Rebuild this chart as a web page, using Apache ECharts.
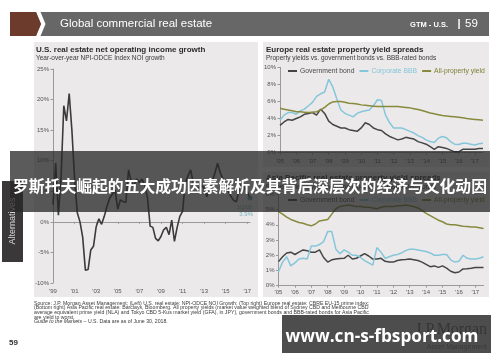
<!DOCTYPE html>
<html><head><meta charset="utf-8">
<script src="https://cdn.jsdelivr.net/npm/echarts@6/dist/echarts.min.js"></script>
<style>html,body{margin:0;padding:0;background:#fff}#c{width:500px;height:362px}</style>
</head><body><div id="c"></div>
<script>
// ---------- DATA ----------
const usStartYear = 1999;
const usTickLabels = ["'99","'01","'03","'05","'07","'09","'11","'13","'15","'17"];
const usNoiGrowth = [
  2.8, 9.6, 1.1, 7.5, 19, 16.5, 21, 15, 7, 1.5,
  0, -2.5, -7.9, -7.8, -4.6, -4, -0.8, 0.5, -0.4, 0.9,
  2.5, 3.9, 4.5, 5.2, 2.1, 3.6, 3.3, 3.2, 8.5, 6.5,
  6, 7, 6.5, 7, 6, 4, -0.7, -0.9, -2.7, -3.1,
  -2.4, -1.3, -0.9, -2.1, 0.3, -3.2, -0.9, 0.9, 1.7, 6.3,
  7.5, 8.5, 6.3, 5.5, 5.5, 6, 5.5, 4.1, 5.5, 6.6,
  8, 9.6, 8, 7, 6.3, 5, 4.1, 3.5, 3.3, 5.5,
  6.3, 5.5, 4.9, 3.9
];
const usLastLabel = '1Q18:\n3.9%';

const yieldStartYear = 2005;
const yieldTickLabels = ["'05","'06","'07","'08","'09","'10","'11","'12","'13","'14","'15","'16","'17"];
const seriesNames = ['Government bond', 'Corporate BBB', 'All-property yield'];

const euGovBond = [
  3.2, 3.6, 3.9, 3.8, 4.0, 4.2, 4.5, 4.6, 4.7, 4.4,
  5.1, 4.6, 3.7, 3.3, 3.1, 2.9, 2.9, 2.7, 2.6, 2.5,
  2.9, 3.5, 3.3, 2.9, 2.7, 2.6, 2.2, 1.9, 1.7, 1.5,
  1.6, 1.8, 1.7, 1.6, 1.3, 1.15, 1.0, 0.7, 0.4, 0.7,
  0.6, 0.5, 0.3, 0.1, 0.1, 0.4, 0.4, 0.4, 0.4, 0.5, 0.5
];
const euCorpBBB = [
  3.8, 4.4, 4.7, 4.7, 4.5, 4.9, 5.1, 5.5, 5.9, 6.6,
  6.9, 7.1, 8.6, 7.7, 6.3, 5.0, 4.6, 4.4, 4.2, 4.6,
  4.8, 4.9, 5.0, 5.5, 6.2, 6.1, 4.4, 3.5, 2.9, 2.9,
  2.9, 2.7, 2.5, 2.3, 2.0, 1.8, 1.5, 1.3, 1.2, 1.7,
  1.9, 1.75, 1.3, 1.0, 0.95, 1.1, 1.1, 1.0, 0.9, 1.05, 1.1
];
const euAllProperty = [
  5.2, 5.1, 5.0, 4.9, 4.8, 4.8, 4.75, 4.7, 4.75, 4.8,
  5.0, 5.3, 5.7, 5.95, 6.0, 6.0, 5.9, 5.8, 5.75, 5.7,
  5.6, 5.55, 5.5, 5.45, 5.4, 5.4, 5.4, 5.4, 5.4, 5.4,
  5.35, 5.3, 5.25, 5.15, 5.05, 4.95, 4.8, 4.65, 4.55, 4.45,
  4.35, 4.3, 4.25, 4.2, 4.15, 4.1, 4.0, 3.95, 3.9, 3.85, 3.8
];

const apGovBond = [
  1.58, 1.9, 2.15, 2.2, 2.05, 2.2, 2.35, 2.3, 2.2, 2.2,
  2.35, 1.85, 1.55, 1.7, 1.75, 1.78, 1.8, 2.0, 1.75, 1.8,
  1.95, 2.1, 1.95, 1.75, 1.75, 1.8, 1.6, 1.55, 1.55, 1.65,
  1.7, 1.72, 1.75, 1.7, 1.65, 1.55, 1.4, 1.25, 1.3, 1.2,
  1.3, 1.15, 0.95, 0.85, 0.9, 1.1, 1.12, 1.15, 1.2, 1.2, 1.2
];
const apCorpBBB = [
  0.92, 1.55, 1.9, 1.3, 1.5, 1.75, 1.8, 1.75, 2.6, 2.6,
  2.7, 2.9, 3.55, 3.55, 2.4, 2.1, 2.35, 2.2, 2.0, 2.0,
  1.85, 1.65, 1.5, 1.35, 2.5, 2.2, 1.8, 1.9, 2.0, 2.05,
  2.15, 2.3, 2.4, 2.4, 2.35, 2.3, 2.25, 2.15, 2.0, 2.0,
  2.05, 2.05, 1.7, 1.55, 1.6, 2.0, 1.8, 1.75, 1.75, 1.8, 1.9
];
const apAllProperty = [
  4.87, 4.7, 4.5, 4.35, 4.25, 4.15, 4.1, 4.0, 3.93, 4.05,
  4.25, 4.3, 4.35, 4.7, 5.05, 5.2, 5.25, 5.3, 5.25, 5.2,
  5.2, 5.15, 5.15, 5.1, 5.05, 5.15, 5.2, 5.2, 5.2, 5.25,
  5.25, 5.3, 5.25, 5.2, 5.1, 4.95, 4.75, 4.6, 4.45, 4.3,
  4.2, 4.05, 4.0, 4.0, 3.95, 3.9, 3.88, 3.86, 3.85, 3.8, 3.75
];

// ---------- BUILD ----------
function quarters(startYear, n) {
  const out = [];
  for (let i = 0; i < n; i++) out.push((startYear + Math.floor(i / 4)) + 'Q' + (i % 4 + 1));
  return out;
}
const usCats = quarters(usStartYear, usNoiGrowth.length);
const ycats = quarters(yieldStartYear, euGovBond.length);

const SANS = '"Liberation Sans", Arial, sans-serif';
const colors = ['#454545', '#86c6da', '#878a3c'];
const legendText = ['#4a4a4a', '#86c6da', '#7d7f33'];
const axisGray = '#9a9a9a';
const labelGray = '#555';

function yAxisCfg(gi, min, max, interval) {
  return {
    type: 'value', gridIndex: gi, min: min, max: max, interval: interval,
    axisLine: { show: true, lineStyle: { color: axisGray, width: 1 } },
    axisTick: { show: true, length: 2.5, lineStyle: { color: axisGray } },
    axisLabel: { formatter: '{value}%', fontSize: 6, color: labelGray, fontFamily: SANS, margin: 4 },
    splitLine: { show: false }
  };
}
function xLabelAxis(gi, cats, step, ticks, margin) {
  return {
    type: 'category', gridIndex: gi, data: cats, boundaryGap: false, position: 'bottom',
    axisLine: { show: false, onZero: false }, axisTick: { show: false },
    axisLabel: { interval: step - 1, fontSize: 6, color: labelGray, fontFamily: SANS, margin: margin,
      formatter: (v, i) => ticks[Math.round(i / step)] || '' },
    splitLine: { show: false }
  };
}
function xZeroAxis(gi, cats, step) {
  return {
    type: 'category', gridIndex: gi, data: cats, boundaryGap: false, position: 'bottom',
    axisLine: { show: true, onZero: true, lineStyle: { color: axisGray, width: 1 } },
    axisTick: { show: true, interval: step - 1, length: 2, inside: false, lineStyle: { color: axisGray } },
    axisLabel: { show: false }, splitLine: { show: false }
  };
}
function lineSeries(name, data, xi, yi, color, w) {
  return { name: name, type: 'line', data: data, xAxisIndex: xi, yAxisIndex: yi, showSymbol: false,
    symbol: 'none', lineStyle: { color: color, width: w }, itemStyle: { color: color }, z: 3 };
}
function legendCfg(top) {
  return {
    left: 288, top: top, icon: 'rect', itemWidth: 9, itemHeight: 2, itemGap: 5, padding: 0,
    selectedMode: false,
    textStyle: { fontSize: 6.8, fontFamily: SANS, padding: [0, 0, 0, -2] },
    data: seriesNames.map((n, i) => ({ name: n, textStyle: { color: legendText[i] } }))
  };
}

const lastIdx = usNoiGrowth.length - 1;

const footer = [
  'Source: J.P. Morgan Asset Management; (Left) U.S. real estate: NPI-ODCE NOI Growth; (Top right) Europe real estate: CBRE EU-15 prime index;',
  '(Bottom right) Asia Pacific real estate: Barclays, Bloomberg. All property yields (market value weighted blend of Sydney CBD and Melbourne CBD',
  'average equivalent prime yield (NLA) and Tokyo CBD 5-Kus market yield (GFA), in JPY), government bonds and BBB-rated bonds for Asia Pacific',
  'are yield to worst.'
].join('\n');

const option = {
  animation: false,
  backgroundColor: '#ffffff',
  grid: [
    { left: 53, top: 69, width: 197, height: 214 },
    { left: 280, top: 67.3, width: 203, height: 85.4 },
    { left: 278.5, top: 194.3, width: 205, height: 91.4 }
  ],
  xAxis: [
    xLabelAxis(0, usCats, 8, usTickLabels, 5),
    xZeroAxis(0, usCats, 8),
    xLabelAxis(1, ycats, 4, yieldTickLabels, 6),
    xZeroAxis(1, ycats, 4),
    xLabelAxis(2, ycats, 4, yieldTickLabels, 4),
    xZeroAxis(2, ycats, 4)
  ],
  yAxis: [
    yAxisCfg(0, -10, 25, 5),
    yAxisCfg(1, 0, 10, 2),
    yAxisCfg(2, 0, 6, 1)
  ],
  legend: [legendCfg(67.5), legendCfg(196.5)],
  series: [
    lineSeries('US NOI growth', usNoiGrowth, 0, 0, '#3b3b3b', 1.6),
    { type: 'scatter', xAxisIndex: 0, yAxisIndex: 0, symbolSize: 5, z: 4,
      itemStyle: { color: '#4a93a6' },
      data: [[usCats[lastIdx], usNoiGrowth[lastIdx]]],
      label: { show: true, position: 'bottom', distance: 3, align: 'right', offset: [3, 0],
        formatter: usLastLabel, color: '#5aa3b5', fontSize: 6, lineHeight: 7, fontFamily: SANS } },
    lineSeries(seriesNames[0], euGovBond, 2, 1, colors[0], 1.5),
    lineSeries(seriesNames[1], euCorpBBB, 2, 1, colors[1], 1.5),
    lineSeries(seriesNames[2], euAllProperty, 2, 1, colors[2], 1.5),
    lineSeries(seriesNames[0], apGovBond, 4, 2, colors[0], 1.5),
    lineSeries(seriesNames[1], apCorpBBB, 4, 2, colors[1], 1.5),
    lineSeries(seriesNames[2], apAllProperty, 4, 2, colors[2], 1.5)
  ],
  graphic: [
    // panels
    { type: 'rect', z: -10, shape: { x: 34, y: 42, width: 224, height: 255 }, style: { fill: '#ebe9ea' } },
    { type: 'rect', z: -10, shape: { x: 263, y: 42, width: 226, height: 125 }, style: { fill: '#ebe9ea' } },
    { type: 'rect', z: -10, shape: { x: 263, y: 172, width: 226, height: 125 }, style: { fill: '#ebe9ea' } },
    // header
    { type: 'rect', z: 1, shape: { x: 10, y: 12, width: 479, height: 24 }, style: { fill: '#676767' } },
    { type: 'polygon', z: 2, shape: { points: [[36, 12], [40.5, 12], [45.5, 24], [40.5, 36], [36, 36], [41, 24]] }, style: { fill: '#ffffff' } },
    { type: 'polygon', z: 2, shape: { points: [[10, 12], [36, 12], [41, 24], [36, 36], [10, 36]] }, style: { fill: '#6d3b2b' } },
    { type: 'text', z: 3, x: 60, y: 24, style: { text: 'Global commercial real estate', fill: '#ffffff', font: '11.5px "Liberation Sans", Arial, sans-serif', textVerticalAlign: 'middle' } },
    { type: 'text', z: 3, x: 448, y: 24.5, style: { text: 'GTM - U.S.', fill: '#ffffff', font: 'bold 7.5px "Liberation Sans", Arial, sans-serif', textAlign: 'right', textVerticalAlign: 'middle' } },
    { type: 'text', z: 3, x: 459, y: 24, style: { text: '|', fill: '#ffffff', font: 'bold 11px "Liberation Sans", Arial, sans-serif', textAlign: 'center', textVerticalAlign: 'middle' } },
    { type: 'text', z: 3, x: 465, y: 24, style: { text: '59', fill: '#ffffff', font: '11.5px "Liberation Sans", Arial, sans-serif', textVerticalAlign: 'middle' } },
    // chart titles
    { type: 'text', z: 3, x: 36, y: 49.3, style: { text: 'U.S. real estate net operating income growth', fill: '#2b2b2b', font: 'bold 8px "Liberation Sans", Arial, sans-serif', textVerticalAlign: 'middle' } },
    { type: 'text', z: 3, x: 36, y: 58.3, style: { text: 'Year-over-year NPI-ODCE Index NOI growth', fill: '#3a3a3a', font: '6.5px "Liberation Sans", Arial, sans-serif', textVerticalAlign: 'middle' } },
    { type: 'text', z: 3, x: 266, y: 49.3, style: { text: 'Europe real estate property yield spreads', fill: '#2b2b2b', font: 'bold 8px "Liberation Sans", Arial, sans-serif', textVerticalAlign: 'middle' } },
    { type: 'text', z: 3, x: 266, y: 58.3, style: { text: 'Property yields vs. government bonds vs. BBB-rated bonds', fill: '#3a3a3a', font: '6.5px "Liberation Sans", Arial, sans-serif', textVerticalAlign: 'middle' } },
    { type: 'text', z: 3, x: 266, y: 178, style: { text: 'Asia Pacific real estate property yield spreads', fill: '#2b2b2b', font: 'bold 8px "Liberation Sans", Arial, sans-serif', textVerticalAlign: 'middle' } },
    { type: 'text', z: 3, x: 266, y: 187, style: { text: 'Property yields vs. government bonds vs. BBB-rated bonds', fill: '#3a3a3a', font: '6.5px "Liberation Sans", Arial, sans-serif', textVerticalAlign: 'middle' } },
    // side tab
    { type: 'rect', z: 3, shape: { x: 2, y: 181, width: 21, height: 81 }, style: { fill: '#3b3839' } },
    { type: 'text', z: 4, x: 12.5, y: 221, rotation: Math.PI / 2, style: { text: 'Alternatives', fill: '#d8d8d8', font: '9px "Liberation Sans", Arial, sans-serif', textAlign: 'center', textVerticalAlign: 'middle' } },
    // footer
    { type: 'text', z: 3, x: 34, y: 301, style: { text: footer, fill: '#3a3a3a', font: '5.2px "Liberation Sans", Arial, sans-serif', lineHeight: 4.6 } },
    { type: 'text', z: 3, x: 34, y: 319.5, style: { text: '{i|Guide to the Markets} – U.S. Data are as of June 30, 2018.', fill: '#3a3a3a', font: '5.2px "Liberation Sans", Arial, sans-serif',
      rich: { i: { fontStyle: 'italic', fontSize: 5.2, fill: '#3a3a3a', fontFamily: 'Liberation Sans' } } } },
    { type: 'text', z: 3, x: 9, y: 343, style: { text: '59', fill: '#333', font: 'bold 8px "Liberation Sans", Arial, sans-serif', textVerticalAlign: 'middle' } },
    { type: 'text', z: 3, x: 487, y: 330, style: { text: 'J.P.Morgan', fill: '#555', font: '16px "Liberation Serif", serif', textAlign: 'right', textVerticalAlign: 'middle' } },
    { type: 'text', z: 3, x: 487, y: 347, style: { text: 'Asset Management', fill: '#777', font: '7px "Liberation Sans", Arial, sans-serif', textAlign: 'right', textVerticalAlign: 'middle' } },
    // overlay band
    { type: 'rect', z: 100, shape: { x: 10, y: 151, width: 480, height: 61 }, style: { fill: 'rgba(40,40,40,0.76)' } },
    { type: 'text', z: 101, x: 250, y: 186, style: { text: '罗斯托夫崛起的五大成功因素解析及其背后深层次的经济与文化动因', fill: '#ffffff', font: 'bold 15.8px "Noto Sans CJK SC", sans-serif', textAlign: 'center', textVerticalAlign: 'middle' } },
    // watermark
    { type: 'rect', z: 100, shape: { x: 282, y: 315, width: 209, height: 38 }, style: { fill: 'rgba(48,48,48,0.86)' } },
    { type: 'text', z: 101, x: 382, y: 337.5, style: { text: 'www.cn-s-fbsport.com', fill: '#ffffff', font: 'bold 17.2px "Open Sans", sans-serif', textAlign: 'center', textVerticalAlign: 'middle' } }
  ]
};

const chart = echarts.init(document.getElementById('c'), null, { renderer: 'canvas' });
chart.setOption(option);
</script>
</body></html>
